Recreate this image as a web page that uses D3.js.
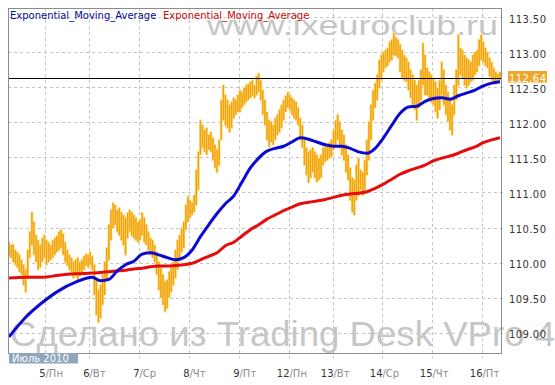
<!DOCTYPE html>
<html lang="ru">
<head>
<meta charset="UTF-8">
<title>EMA chart</title>
<style>
  body { margin: 0; background: #fff; }
  text { font-family: "DejaVu Sans", Verdana, sans-serif; }
</style>
</head>
<body>
<svg id="svg" width="555" height="385"></svg>
<script src="https://d3js.org/d3.v7.min.js"></script>
<script>
// hourly bars, high / low
const highs = [
  110.29,110.25,110.26,110.18,110.15,110.11,110.04,109.97,109.90,110.18,
  110.44,110.72,110.58,110.39,110.32,110.25,110.35,110.39,110.32,110.29,
  110.25,110.32,110.35,110.38,110.44,110.47,110.41,110.29,110.18,110.11,
  110.07,110.01,110.04,110.07,110.01,110.04,110.09,110.12,110.11,110.15,
  110.09,109.97,109.75,109.61,109.68,109.83,110.01,110.21,110.54,110.75,
  110.85,110.82,110.75,110.78,110.72,110.68,110.64,110.71,110.75,110.72,
  110.68,110.64,110.58,110.61,110.71,110.64,110.54,110.44,110.35,110.32,
  110.25,110.15,110.01,109.93,109.83,109.73,109.75,109.87,109.93,110.01,
  110.18,110.32,110.39,110.49,110.58,110.82,110.94,110.89,110.86,110.96,
  111.32,111.58,112.03,111.96,111.89,111.92,111.82,111.86,111.78,111.68,
  111.61,111.75,112.32,112.53,112.39,112.32,112.25,112.29,112.35,112.32,
  112.39,112.46,112.43,112.49,112.53,112.55,112.58,112.60,112.53,112.66,
  112.70,112.60,112.46,112.32,112.15,112.03,112.01,111.96,112.06,112.11,
  112.18,112.25,112.32,112.38,112.43,112.39,112.35,112.32,112.29,112.21,
  112.06,111.96,111.75,111.64,111.58,111.61,111.64,111.58,111.54,111.49,
  111.54,111.64,111.66,111.68,111.71,111.75,111.89,112.03,112.11,112.01,
  111.89,111.82,111.68,111.54,111.35,111.21,111.18,111.39,111.49,111.32,
  111.29,111.46,111.75,112.01,112.25,112.46,112.56,112.68,112.89,112.96,
  113.00,113.03,113.06,113.15,113.18,113.28,113.21,113.18,113.11,113.03,
  112.96,112.92,112.86,112.75,112.68,112.60,112.53,112.60,112.75,113.13,
  112.96,112.78,112.72,112.68,112.63,112.58,112.49,112.60,112.86,112.75,
  112.53,112.43,112.35,112.25,112.53,112.75,113.25,113.06,113.03,112.96,
  112.92,112.89,112.86,112.96,113.00,113.03,113.18,113.25,113.15,113.06,
  113.00,112.92,112.86,112.78,112.72,112.69,112.72
]
const lows = [
  110.09,110.07,110.01,109.97,109.93,109.87,109.83,109.68,109.58,109.78,
  110.07,110.25,110.11,110.01,109.90,109.93,110.01,110.07,109.97,110.01,
  110.04,110.07,110.11,110.15,110.18,110.21,110.11,110.01,109.96,109.90,
  109.87,109.78,109.81,109.75,109.81,109.84,109.90,109.96,109.93,109.97,
  109.90,109.54,109.25,109.15,109.21,109.40,109.54,109.75,110.04,110.32,
  110.49,110.54,110.44,110.39,110.32,110.25,110.11,110.35,110.44,110.38,
  110.35,110.32,110.29,110.32,110.39,110.29,110.25,110.18,110.11,110.07,
  110.01,109.83,109.61,109.50,109.40,109.30,109.35,109.50,109.58,109.68,
  109.78,109.90,110.04,110.15,110.21,110.47,110.58,110.64,110.68,110.72,
  110.82,111.04,111.54,111.64,111.58,111.54,111.61,111.58,111.46,111.35,
  111.29,111.39,111.75,112.03,111.96,111.92,111.86,111.92,112.06,112.11,
  112.15,112.15,112.21,112.25,112.29,112.32,112.35,112.38,112.35,112.39,
  112.43,112.32,112.11,111.96,111.75,111.65,111.72,111.68,111.75,111.82,
  111.86,111.92,112.03,112.15,112.21,112.18,112.11,112.06,112.03,111.96,
  111.75,111.64,111.39,111.25,111.14,111.21,111.29,111.21,111.15,111.18,
  111.21,111.39,111.44,111.46,111.49,111.51,111.61,111.68,111.75,111.64,
  111.54,111.46,111.29,111.18,110.89,110.72,110.68,110.89,110.96,111.04,
  110.96,111.04,111.25,111.46,111.75,112.03,112.21,112.32,112.49,112.60,
  112.72,112.78,112.81,112.86,112.89,112.96,112.95,112.92,112.72,112.63,
  112.60,112.58,112.46,112.35,112.25,112.18,112.03,112.21,112.32,112.53,
  112.39,112.39,112.35,112.29,112.25,112.15,112.06,112.18,112.39,112.25,
  112.11,112.01,111.89,111.82,112.11,112.32,112.53,112.68,112.63,112.53,
  112.49,112.53,112.58,112.60,112.68,112.72,112.81,112.89,112.86,112.81,
  112.78,112.66,112.60,112.58,112.55,112.58,112.60
]

// moving averages, read at these bar numbers
const emaIdx = [0,8,16,24,32,40,44,48,52,56,60,64,68,72,76,80,84,88,92,96,100,104,108,112,116,120,
  124,128,132,136,140,144,148,152,156,160,164,168,172,176,180,184,188,192,196,200,204,208,212,216,220,224,228,232,236]
const emaFast = [108.94,109.22,109.43,109.60,109.72,109.79,109.74,109.76,109.88,109.97,110.02,110.12,110.14,
  110.11,110.07,110.04,110.07,110.18,110.37,110.54,110.70,110.84,110.95,111.15,111.35,111.49,
  111.59,111.63,111.66,111.72,111.78,111.76,111.72,111.68,111.66,111.66,111.63,111.58,111.56,111.63,
  111.78,111.96,112.13,112.22,112.23,112.30,112.34,112.35,112.33,112.38,112.42,112.46,112.52,112.56,112.58]
const emaSlow = [109.78,109.79,109.79,109.82,109.84,109.85,109.86,109.87,109.88,109.89,109.91,109.92,109.94,
  109.95,109.95,109.96,109.97,109.99,110.04,110.09,110.14,110.24,110.29,110.38,110.47,110.54,
  110.62,110.68,110.74,110.79,110.84,110.86,110.88,110.90,110.93,110.96,110.98,110.99,111.01,111.06,
  111.12,111.19,111.26,111.31,111.35,111.39,111.45,111.49,111.52,111.56,111.61,111.65,111.71,111.75,111.78]

const dayIdx = [18, 39, 63, 87, 111, 135, 156, 180, 204, 228]
const dayNum = ['5', '6', '7', '8', '9', '12', '13', '14', '15', '16']
const dayName = ['Пн', 'Вт', 'Ср', 'Чт', 'Пт', 'Пн', 'Вт', 'Ср', 'Чт', 'Пт']
const yTicks = [109, 109.5, 110, 110.5, 111, 111.5, 112, 112.5, 113, 113.5]
const lastPrice = 112.64
const monthLabel = 'Июль 2010'
const legendNames = ['Exponential_Moving_Average', 'Exponential_Moving_Average']

// layout
const pL = 8, pR = 501, pT = 8, pB = 353
const x = d3.scaleLinear().domain([0, highs.length]).range([pL, pR])
const y = d3.scaleLinear().domain([108.71, 113.632]).range([pB, pT])
const svg = d3.select('#svg')

svg.append('defs').append('clipPath').attr('id', 'plot')
  .append('rect').attr('x', pL).attr('y', pT).attr('width', pR - pL).attr('height', pB - pT)

// watermarks
svg.append('text').text('www.ixeuroclub.ru')
  .attr('x', 207).attr('y', 35)
  .attr('textLength', 291).attr('lengthAdjust', 'spacingAndGlyphs')
  .style('font-family', '"Liberation Sans", Arial, sans-serif')
  .style('font-size', '28px').attr('fill', '#c6c6c6')
svg.append('text').text('Сделано из Trading Desk VPro 4')
  .attr('x', 10).attr('y', 346)
  .attr('textLength', 545).attr('lengthAdjust', 'spacingAndGlyphs')
  .style('font-family', '"Liberation Sans", Arial, sans-serif')
  .style('font-size', '35px').attr('fill', '#c6c6c6')

// grid
svg.append('g').selectAll('line').data(yTicks).join('line')
  .attr('x1', pL).attr('x2', pR + 4)
  .attr('y1', d => Math.round(y(d)) + 0.5).attr('y2', d => Math.round(y(d)) + 0.5)
  .attr('stroke', '#c4c4c4').attr('stroke-dasharray', '3,3')
svg.append('g').selectAll('line').data(dayIdx).join('line')
  .attr('x1', d => Math.round(x(d)) + 0.5).attr('x2', d => Math.round(x(d)) + 0.5)
  .attr('y1', pT).attr('y2', pB + 5)
  .attr('stroke', '#c4c4c4').attr('stroke-dasharray', '3,3')

// legend
svg.append('text').text(legendNames[0]).attr('x', 10).attr('y', 18.5)
  .style('font-size', '10px').attr('fill', '#0a0a96')
svg.append('text').text(legendNames[1]).attr('x', 163).attr('y', 18.5)
  .style('font-size', '10px').attr('fill', '#c80a0a')

const plot = svg.append('g').attr('clip-path', 'url(#plot)')

// price bars
const bars = highs.map((h, i) => ({ i, h, l: lows[i] }))
plot.append('g').selectAll('line').data(bars).join('line')
  .attr('x1', d => x(d.i + 0.5)).attr('x2', d => x(d.i + 0.5))
  .attr('y1', d => y(d.h) - 1).attr('y2', d => y(d.l) + 1)
  .attr('stroke', '#fce7a0').attr('stroke-width', 3)
plot.append('g').selectAll('line').data(bars).join('line')
  .attr('x1', d => x(d.i + 0.5)).attr('x2', d => x(d.i + 0.5))
  .attr('y1', d => y(d.h)).attr('y2', d => y(d.l))
  .attr('stroke', '#f2a40c').attr('stroke-width', 1.6)

// EMA lines
const line = d3.line().x(d => x(d[0] + 0.5)).y(d => y(d[1])).curve(d3.curveMonotoneX)
plot.append('path').datum(emaIdx.map((d, i) => [d, emaSlow[i]]))
  .attr('d', line).attr('fill', 'none').attr('stroke', '#e60c0c').attr('stroke-width', 3)
plot.append('path').datum(emaIdx.map((d, i) => [d, emaFast[i]]))
  .attr('d', line).attr('fill', 'none').attr('stroke', '#0a0ad2').attr('stroke-width', 3)

// last price line
svg.append('line')
  .attr('x1', pL).attr('x2', pR)
  .attr('y1', Math.round(y(lastPrice)) + 0.5).attr('y2', Math.round(y(lastPrice)) + 0.5)
  .attr('stroke', '#000')

// frame
svg.append('rect').attr('x', pL + 0.5).attr('y', pT + 0.5)
  .attr('width', pR - pL).attr('height', pB - pT)
  .attr('fill', 'none').attr('stroke', '#8c8c8c')

// right axis
svg.append('g').selectAll('text').data(yTicks).join('text')
  .text(d => d.toFixed(2))
  .attr('x', 509).attr('y', d => y(d) + 5.5)
  .style('font-size', '10px').style('letter-spacing', '0.4px').attr('fill', '#333')

// last price tag
svg.append('rect').attr('x', 508).attr('y', y(lastPrice) - 6.5).attr('width', 39).attr('height', 11.5)
  .attr('fill', '#f0a62a')
svg.append('text').text(lastPrice.toFixed(2))
  .attr('x', 509).attr('y', y(lastPrice) + 4)
  .style('font-size', '10px').style('letter-spacing', '0.4px').attr('fill', '#fff')

// bottom axis
const days = dayIdx.map((d, i) => ({ d, n: dayNum[i], w: dayName[i] }))
const dl = svg.append('g').selectAll('g').data(days).join('g')
dl.append('text').text(d => d.n)
  .attr('x', d => Math.round(x(d.d)) + 0.5).attr('y', 377).attr('text-anchor', 'end')
  .style('font-size', '10px').attr('fill', '#333')
dl.append('text').text(d => '/' + d.w)
  .attr('x', d => Math.round(x(d.d)) + 0.5).attr('y', 377)
  .style('font-size', '10px').attr('fill', '#8a8a8a')

// month tag
svg.append('rect').attr('x', 9).attr('y', 353).attr('width', 69).attr('height', 10.5).attr('fill', '#8ea5bc')
svg.append('text').text(monthLabel).attr('x', 12).attr('y', 361.5)
  .style('font-size', '10px').attr('fill', '#fff')
</script>
</body>
</html>
